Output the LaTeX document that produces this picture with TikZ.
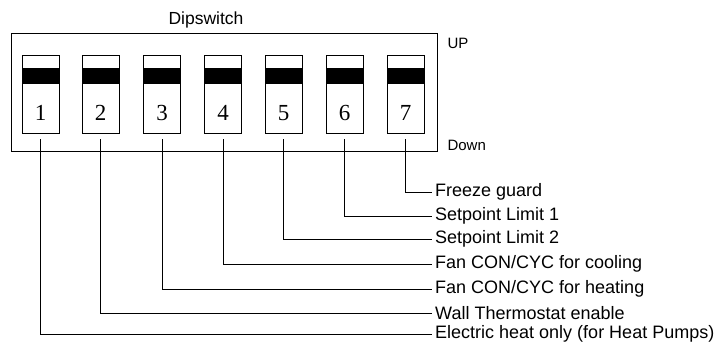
\documentclass[tikz,border=0pt]{standalone}
\usepackage{fontspec}
\setmainfont{Liberation Sans}
\newfontfamily\digitfont{Liberation Serif}
\usetikzlibrary{positioning}

\begin{document}
\begin{tikzpicture}[
  x=1pt,y=-1pt,
  frame/.style={draw,line width=1pt,minimum width=426pt,minimum height=118pt,inner sep=0pt},
  slider/.style={draw,line width=0.9pt,minimum width=37pt,minimum height=78pt,inner sep=0pt},
  digit/.style={font=\digitfont\fontsize{23}{23}\selectfont,inner sep=0pt},
  func/.style={anchor=west,inner xsep=3pt,inner ysep=1pt,font=\fontsize{18}{20}\selectfont},
  side/.style={anchor=west,font=\fontsize{15}{18}\selectfont},
  lead/.style={line width=0.9pt}
]
\useasboundingbox (0,0) rectangle (717,347);
\node[frame] (dip) at (224,93) {};
\node[font=\fontsize{17.5}{20}\selectfont] (title) at (206,20) {Dipswitch};
\node[side] (up) at (444,43) {UP};
\node[side] (down) at (444,145) {Down};
% the seven switches
\foreach \i/\x in {1/40.5,2/100.5,3/162,4/223,5/283.5,6/344.5,7/405.5} {
  \node[slider] (sw\i) at (\x,94) {};
  \fill ([yshift=-13pt]sw\i.north west) rectangle ([yshift=-29pt]sw\i.north east);
  \node[digit] (n\i) at ([yshift=-19pt]sw\i.center) {\i};
}
% what each switch does
\foreach \i/\y/\txt in {7/192/{Freeze guard},6/216/{Setpoint Limit 1},5/239/{Setpoint Limit 2},4/264/{Fan CON/CYC for cooling},3/289/{Fan CON/CYC for heating},2/313/{Wall Thermostat enable},1/334/{Electric heat only (for Heat Pumps)}} {
  \node[func] (f\i) at (432,\y) {\txt};
  \draw[lead] ([yshift=-6pt]sw\i.south) |- (f\i.west);
}
\end{tikzpicture}
\end{document}
